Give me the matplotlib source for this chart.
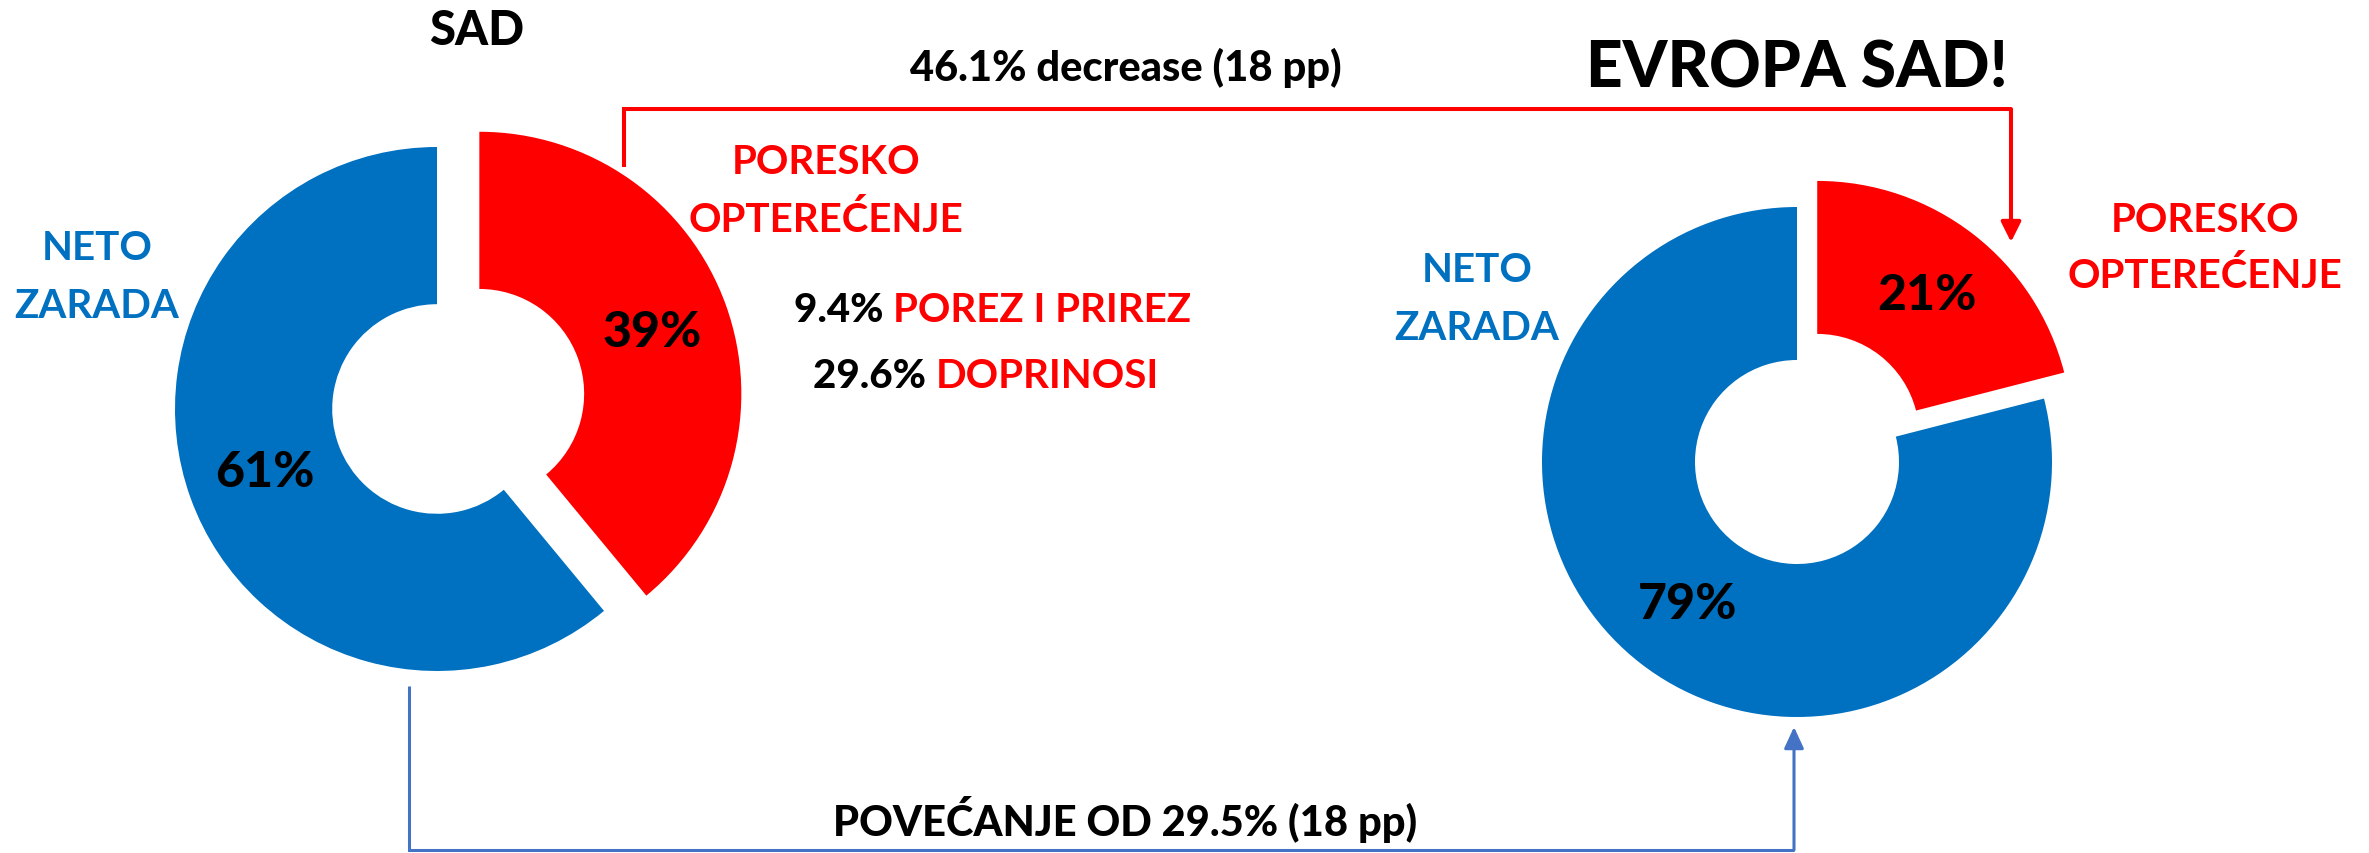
import matplotlib
matplotlib.use("Agg")
import matplotlib.pyplot as plt

# ---------------- data ----------------
categories = ["PORESKO OPTEREĆENJE", "NETO ZARADA"]
sad_values = [39, 61]
evropa_values = [21, 79]
sad_breakdown_values = ["9.4%", "29.6%"]
sad_breakdown_labels = ["POREZ I PRIREZ", "DOPRINOSI"]
title_left = "SAD"
title_right = "EVROPA SAD!"
decrease_text = "46.1% decrease (18 pp)"
increase_text = "POVEĆANJE OD 29.5% (18 pp)"

RED = "#FF0000"
BLUE = "#0070C0"
ARROW_BLUE = "#4472C4"

W, H = 2369, 854
plt.rcParams["font.family"] = ["Lato", "DejaVu Sans"]

fig = plt.figure(figsize=(W / 100, H / 100), dpi=100)
ax = fig.add_axes([0, 0, 1, 1])
WT = "black"


def Y(py):
    return H - py


# ---------------- donuts ----------------
R1 = 262
ax.pie(sad_values, colors=[RED, BLUE], startangle=90, counterclock=False,
       explode=[45, 0], radius=R1, center=(437, Y(410)),
       wedgeprops=dict(width=0.6 * R1, linewidth=0),
       autopct="%.0f%%", pctdistance=0.70,
       textprops=dict(fontsize=36, fontweight=WT, color="black"))

R2 = 255
ax.pie(evropa_values, colors=[RED, BLUE], startangle=90, counterclock=False,
       explode=[33, 0], radius=R2, center=(1797, Y(463)),
       wedgeprops=dict(width=0.6 * R2, linewidth=0),
       autopct="%.0f%%", pctdistance=0.70,
       textprops=dict(fontsize=36, fontweight=WT, color="black"))

ax.set_xlim(0, W)
ax.set_ylim(0, H)
ax.axis("off")

# ---------------- titles ----------------
ax.text(477, Y(45), title_left, ha="center", va="baseline",
        fontsize=34, fontweight=WT, color="black")
ax.text(1797, Y(87), title_right, ha="center", va="baseline",
        fontsize=46, fontweight=WT, color="black")
ax.text(1126, Y(81), decrease_text, ha="center", va="baseline",
        fontsize=30, fontweight=WT, color="black")
ax.text(1125, Y(836), increase_text, ha="center", va="baseline",
        fontsize=30, fontweight=WT, color="black")

# ---------------- category labels ----------------
tax_lines = ["PORESKO", "OPTEREĆENJE"]
net_lines = ["NETO", "ZARADA"]
FS = 29
LW = "bold"
for i, line in enumerate(tax_lines):
    ax.text(826, Y(174 + 58 * i), line, ha="center", va="baseline",
            fontsize=FS, fontweight=LW, color=RED)
    ax.text(2205, Y(232 + 56 * i), line, ha="center", va="baseline",
            fontsize=FS, fontweight=LW, color=RED)
for i, line in enumerate(net_lines):
    ax.text(97, Y(260 + 58 * i), line, ha="center", va="baseline",
            fontsize=FS, fontweight=LW, color=BLUE)
    ax.text(1477, Y(282 + 58 * i), line, ha="center", va="baseline",
            fontsize=FS, fontweight=LW, color=BLUE)

# ---------------- breakdown (two-colour lines) ----------------
fig.canvas.draw()
renderer = fig.canvas.get_renderer()
centers = [(993, 322), (986, 388)]
for val, lab, (cx, by) in zip(sad_breakdown_values, sad_breakdown_labels, centers):
    t1 = ax.text(0, Y(by), val + " ", ha="left", va="baseline",
                 fontsize=FS, fontweight=WT, color="black")
    t2 = ax.text(0, Y(by), lab, ha="left", va="baseline",
                 fontsize=FS, fontweight=LW, color=RED)
    w1 = t1.get_window_extent(renderer).width
    w2 = t2.get_window_extent(renderer).width
    x0 = cx - (w1 + w2) / 2
    t1.set_x(x0)
    t2.set_x(x0 + w1)

# ---------------- connector arrows ----------------
ax.plot([624, 624, 2011], [Y(168), Y(110), Y(110)], color=RED, lw=2.9,
        solid_joinstyle="miter", solid_capstyle="butt")
ax.annotate("", xy=(2011, Y(243)), xytext=(2011, Y(110)),
            arrowprops=dict(arrowstyle="-|>,head_length=0.6,head_width=0.3",
                            mutation_scale=20, color=RED, lw=2.9,
                            shrinkA=0, shrinkB=0))

ax.plot([409, 409, 1794], [Y(687), Y(851), Y(851)], color=ARROW_BLUE, lw=2.2,
        solid_joinstyle="miter", solid_capstyle="butt")
ax.annotate("", xy=(1794, Y(728)), xytext=(1794, Y(851)),
            arrowprops=dict(arrowstyle="-|>,head_length=0.65,head_width=0.3",
                            mutation_scale=20, color=ARROW_BLUE, lw=2.2,
                            shrinkA=0, shrinkB=0))

fig.savefig("out.png", dpi=100)
